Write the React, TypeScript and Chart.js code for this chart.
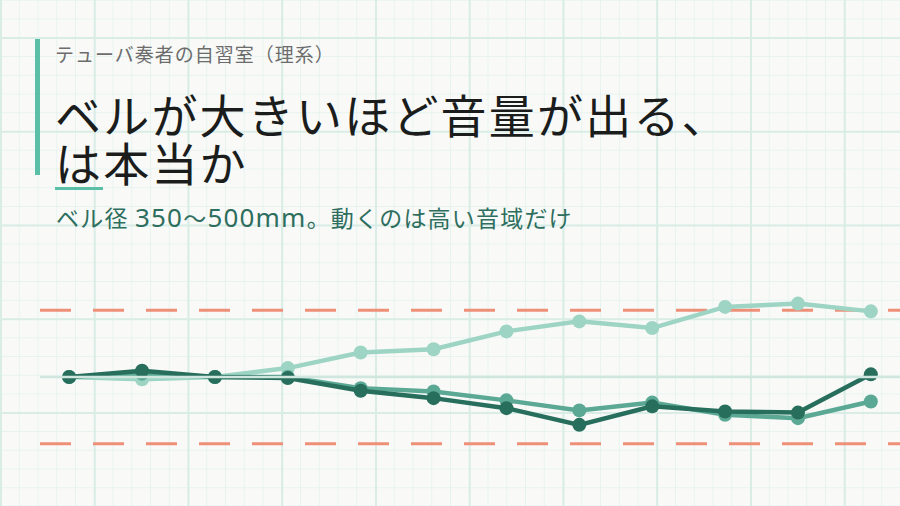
import { useEffect, useRef } from 'react';
import { Chart, registerables } from 'chart.js';

Chart.register(...registerables);

// 12 notes across the tuba range, low -> high
const noteIndex = [0, 1, 2, 3, 4, 5, 6, 7, 8, 9, 10, 11];

// level change vs. reference bell (dB)
const bellLarge = [0, -0.1, 0, 0.4, 1.1, 1.25, 2.05, 2.5, 2.2, 3.15, 3.3, 2.95];
const bellMid = [0, 0.15, 0, 0, -0.5, -0.65, -1.05, -1.5, -1.15, -1.7, -1.85, -1.1];
const bellSmall = [0, 0.28, 0, -0.05, -0.62, -0.95, -1.4, -2.15, -1.32, -1.55, -1.6, 0.12];

// perceptible-difference band (dB)
const noticeLimit = 3;
const xRange = [-0.4, 11.4];
const yRange = [-4, 4];

const toPoints = (ys: number[]) => ys.map((y, i) => ({ x: noteIndex[i], y }));
const flatLine = (y: number) => xRange.map((x) => ({ x, y }));

const FONT = '"Noto Sans CJK JP", "Noto Sans", sans-serif';
const LATIN = '"Noto Sans", "Noto Sans CJK JP", sans-serif';
const TEAL = '#5bbfa8';

function BellChart() {
  const canvasRef = useRef<HTMLCanvasElement>(null);

  useEffect(() => {
    if (!canvasRef.current) return;

    const series = (data: number[], color: string, order: number) => ({
      data: toPoints(data),
      borderColor: color,
      backgroundColor: color,
      pointBackgroundColor: color,
      pointBorderColor: color,
      borderWidth: 4.5,
      pointRadius: 7,
      pointBorderWidth: 0,
      tension: 0,
      clip: false as const,
      order,
    });

    const chart = new Chart(canvasRef.current, {
      type: 'line',
      data: {
        datasets: [
          {
            data: flatLine(0),
            borderColor: '#cfe7df',
            borderWidth: 2.5,
            pointRadius: 0,
            order: 0,
          },
          series(bellSmall, '#286e5c', 1),
          series(bellMid, '#5ba895', 2),
          series(bellLarge, '#9dd4c4', 3),
          {
            data: flatLine(noticeLimit),
            borderColor: '#ee9077',
            borderWidth: 3,
            borderDash: [31, 22],
            pointRadius: 0,
            order: 4,
          },
          {
            data: flatLine(-noticeLimit),
            borderColor: '#ee9077',
            borderWidth: 3,
            borderDash: [31, 22],
            pointRadius: 0,
            order: 4,
          },
        ],
      },
      options: {
        animation: false,
        responsive: false,
        maintainAspectRatio: false,
        layout: { padding: 0, autoPadding: false },
        plugins: {
          legend: { display: false },
          tooltip: { enabled: false },
        },
        scales: {
          x: { type: 'linear', display: false, min: xRange[0], max: xRange[1] },
          y: { type: 'linear', display: false, min: yRange[0], max: yRange[1] },
        },
      },
    });

    return () => {
      chart.destroy();
    };
  }, []);

  return (
    <canvas
      ref={canvasRef}
      width={860}
      height={178}
      style={{ position: 'absolute', left: 40, top: 288, width: 860, height: 178 }}
    />
  );
}

export default function App() {
  const minor = '#e7f3ef';
  const major = '#d9ece6';

  return (
    <div
      style={{
        position: 'fixed',
        left: 0,
        top: 0,
        width: 900,
        height: 506,
        overflow: 'hidden',
        fontFamily: FONT,
        backgroundColor: '#f9faf8',
        backgroundImage: [
          `linear-gradient(to right, ${major} 1.5px, transparent 1.5px)`,
          `linear-gradient(to bottom, ${major} 1.5px, transparent 1.5px)`,
          `linear-gradient(to right, ${minor} 1px, transparent 1px)`,
          `linear-gradient(to bottom, ${minor} 1px, transparent 1px)`,
        ].join(','),
        backgroundSize: '93.75px 93.75px, 93.75px 93.75px, 18.75px 18.75px, 18.75px 18.75px',
        backgroundPosition: '0 37px, 0 37px, 0 18.5px, 0 18.5px',
      }}
    >
      <div style={{ position: 'absolute', left: 35, top: 39, width: 5, height: 136, background: TEAL }} />
      <div
        style={{
          position: 'absolute',
          left: 55,
          top: 42,
          fontSize: 19,
          lineHeight: '24px',
          letterSpacing: 1,
          color: '#6c6c6c',
          whiteSpace: 'nowrap',
        }}
      >
        テューバ奏者の自習室（理系）
      </div>
      <div
        style={{
          position: 'absolute',
          left: 55,
          top: 89,
          fontSize: 46,
          lineHeight: '48px',
          letterSpacing: 2.2,
          color: '#1b1d1c',
          whiteSpace: 'nowrap',
        }}
      >
        ベルが大きいほど音量が出る、
        <br />
        は本当か
      </div>
      <div style={{ position: 'absolute', left: 55, top: 187, width: 48, height: 3, background: TEAL }} />
      <div
        style={{
          position: 'absolute',
          left: 56,
          top: 202,
          fontSize: 23,
          lineHeight: '30px',
          letterSpacing: 1.2,
          color: '#2e6e5e',
          whiteSpace: 'nowrap',
        }}
      >
        ベル径 <span style={{ fontFamily: LATIN, fontSize: 26 }}>350</span>〜
        <span style={{ fontFamily: LATIN, fontSize: 26 }}>500mm</span>。動くのは高い音域だけ
      </div>
      <BellChart />
    </div>
  );
}
